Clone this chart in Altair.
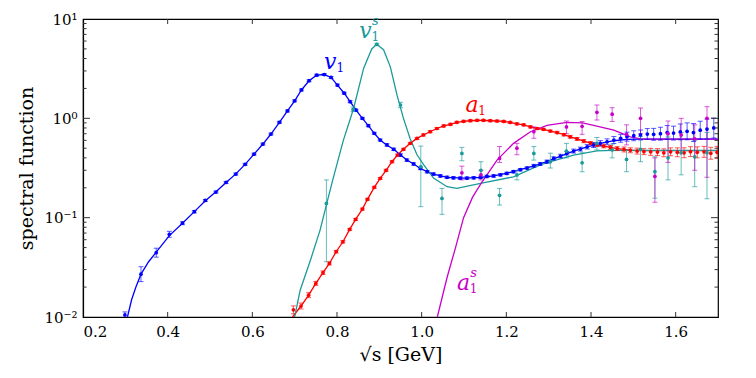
import altair as alt
import pandas as pd

series_names = ["v1", "v1s", "a1", "a1s"]
series_colors = ["#0000ff", "#1a9a9a", "#ff0000", "#c800c8"]

# ---------------- v1 (blue) data points ----------------
v1_x = [0.299, 0.337, 0.373, 0.404, 0.435, 0.463, 0.489, 0.514, 0.538, 0.561,
        0.583, 0.604, 0.625, 0.644, 0.664, 0.683, 0.700, 0.716, 0.734, 0.752,
        0.770, 0.786, 0.801, 0.817, 0.831, 0.845, 0.860, 0.874, 0.888, 0.902,
        0.918, 0.934, 0.950, 0.965, 0.981, 0.997, 1.013, 1.028, 1.044, 1.060,
        1.075, 1.091, 1.107, 1.123, 1.139, 1.154, 1.170, 1.186, 1.201, 1.217,
        1.233, 1.249, 1.265, 1.280, 1.296, 1.312, 1.328, 1.343, 1.359, 1.375,
        1.391, 1.406, 1.422, 1.438, 1.454, 1.470, 1.485, 1.501, 1.517, 1.533,
        1.548, 1.564, 1.580, 1.595, 1.611, 1.627, 1.642, 1.658, 1.674, 1.690]
v1_y = [0.0105, 0.027, 0.0444, 0.068, 0.088, 0.115, 0.149, 0.181, 0.226, 0.275,
        0.344, 0.436, 0.551, 0.695, 0.912, 1.186, 1.50, 1.93, 2.39, 2.72,
        2.76, 2.58, 2.16, 1.79, 1.47, 1.21, 1.00, 0.843, 0.706, 0.605,
        0.54, 0.488, 0.427, 0.38, 0.347, 0.313, 0.29, 0.275, 0.263, 0.255,
        0.252, 0.25, 0.25, 0.252, 0.255, 0.26, 0.263, 0.27, 0.279, 0.29,
        0.304, 0.316, 0.333, 0.347, 0.366, 0.395, 0.417, 0.445, 0.468, 0.49,
        0.517, 0.538, 0.56, 0.58, 0.605, 0.63, 0.654, 0.668, 0.68, 0.695,
        0.69, 0.70, 0.72, 0.71, 0.73, 0.74, 0.72, 0.76, 0.78, 0.80]
# half-width of the error bars in decades
v1_err = [0.03, 0.075, 0.045, 0.03, 0.015, 0.012, 0.01, 0.01, 0.01, 0.01,
          0.01, 0.01, 0.01, 0.01, 0.01, 0.01, 0.01, 0.01, 0.01, 0.01,
          0.01, 0.01, 0.01, 0.01, 0.01, 0.01, 0.01, 0.01, 0.01, 0.01,
          0.012, 0.012, 0.012, 0.012, 0.012, 0.012, 0.012, 0.012, 0.012, 0.012,
          0.012, 0.012, 0.012, 0.012, 0.012, 0.012, 0.012, 0.012, 0.012, 0.012,
          0.012, 0.012, 0.014, 0.014, 0.016, 0.016, 0.018, 0.018, 0.02, 0.02,
          0.022, 0.025, 0.028, 0.03, 0.035, 0.04, 0.045, 0.05, 0.05, 0.055,
          0.06, 0.065, 0.07, 0.07, 0.08, 0.085, 0.09, 0.09, 0.1, 0.1]

# ---------------- a1 (red) data points ----------------
a1_x = [0.697, 0.715, 0.733, 0.750, 0.767, 0.782, 0.798, 0.814, 0.830, 0.844,
        0.860, 0.872, 0.888, 0.902, 0.916, 0.930, 0.943, 0.957, 0.973, 0.989,
        1.004, 1.020, 1.036, 1.052, 1.068, 1.083, 1.099, 1.115, 1.131, 1.146,
        1.162, 1.178, 1.194, 1.209, 1.225, 1.241, 1.257, 1.273, 1.288, 1.304,
        1.320, 1.336, 1.351, 1.367, 1.383, 1.399, 1.414, 1.430, 1.446, 1.462,
        1.478, 1.493, 1.509, 1.525, 1.541, 1.557, 1.572, 1.588, 1.604, 1.620,
        1.635, 1.651, 1.667, 1.683, 1.698]
a1_y = [0.0118, 0.0129, 0.0166, 0.0218, 0.0279, 0.0346, 0.0454, 0.0572, 0.0762, 0.096,
        0.122, 0.153, 0.202, 0.248, 0.30, 0.366, 0.427, 0.488, 0.56, 0.628,
        0.68, 0.733, 0.79, 0.838, 0.871, 0.912, 0.933, 0.946, 0.955, 0.955,
        0.946, 0.94, 0.93, 0.91, 0.88, 0.86, 0.82, 0.79, 0.775, 0.745,
        0.72, 0.685, 0.652, 0.62, 0.59, 0.563, 0.543, 0.526, 0.51, 0.496,
        0.486, 0.477, 0.468, 0.462, 0.46, 0.457, 0.45, 0.46, 0.455, 0.45,
        0.462, 0.455, 0.46, 0.445, 0.455]
a1_err = [0.04, 0.03, 0.025, 0.02, 0.018, 0.015, 0.012, 0.012, 0.01, 0.01,
          0.01, 0.01, 0.01, 0.01, 0.01, 0.01, 0.01, 0.01, 0.01, 0.01,
          0.01, 0.01, 0.01, 0.01, 0.01, 0.01, 0.01, 0.01, 0.01, 0.01,
          0.01, 0.01, 0.01, 0.01, 0.01, 0.01, 0.01, 0.01, 0.01, 0.01,
          0.012, 0.012, 0.014, 0.014, 0.016, 0.016, 0.018, 0.018, 0.02, 0.02,
          0.025, 0.025, 0.03, 0.03, 0.035, 0.035, 0.04, 0.04, 0.045, 0.05,
          0.05, 0.055, 0.055, 0.06, 0.06]

# ---------------- v1^s (teal) data points ----------------
v1s_x = [0.775, 0.838, 0.894, 0.950, 0.998, 1.048, 1.095, 1.140, 1.184, 1.225,
         1.265, 1.304, 1.342, 1.379, 1.414, 1.450, 1.484, 1.517, 1.551, 1.582,
         1.613, 1.645, 1.674]
v1s_y = [0.139, 1.23, 5.56, 1.36, 0.326, 0.156, 0.443, 0.30, 0.168, 0.269,
         0.443, 0.366, 0.468, 0.357, 0.56, 0.48, 0.386, 0.488, 0.29, 0.40,
         0.45, 0.41, 0.45]
v1s_lo = [0.036, 1.17, 5.4, 1.28, 0.129, 0.108, 0.374, 0.249, 0.134, 0.24,
          0.38, 0.316, 0.40, 0.29, 0.48, 0.40, 0.29, 0.366, 0.157, 0.24,
          0.27, 0.205, 0.155]
v1s_hi = [0.24, 1.30, 5.7, 1.45, 0.526, 0.197, 0.51, 0.366, 0.197, 0.30,
          0.52, 0.446, 0.56, 0.45, 0.64, 0.55, 0.48, 0.655, 0.41, 0.65,
          0.72, 0.60, 0.72]

# ---------------- a1^s (magenta) data points ----------------
a1s_x = [1.095, 1.140, 1.184, 1.225, 1.265, 1.342, 1.379, 1.414, 1.450, 1.484,
         1.517, 1.551, 1.582, 1.613, 1.645, 1.674]
a1s_y = [0.283, 0.27, 0.395, 0.50, 0.733, 0.82, 0.83, 1.15, 1.10, 0.69,
         1.0, 0.26, 0.70, 0.68, 0.62, 1.0]
a1s_lo = [0.24, 0.24, 0.36, 0.43, 0.63, 0.70, 0.69, 0.96, 0.93, 0.54,
          0.70, 0.143, 0.36, 0.45, 0.30, 0.255]
a1s_hi = [0.33, 0.30, 0.52, 0.56, 0.82, 0.94, 0.93, 1.36, 1.28, 0.86,
          1.27, 0.40, 0.94, 1.0, 0.86, 1.31]

# ---------------- fitted curves ----------------
v1_cx = [0.305, 0.315, 0.325, 0.337, 0.355, 0.373, 0.404, 0.435, 0.463, 0.489,
         0.514, 0.538, 0.561, 0.583, 0.604, 0.625, 0.644, 0.664, 0.683, 0.700,
         0.716, 0.734, 0.752, 0.770, 0.786, 0.801, 0.817, 0.831, 0.845, 0.860,
         0.874, 0.888, 0.902, 0.918, 0.934, 0.950, 0.965, 0.981, 0.997, 1.013,
         1.028, 1.060, 1.100, 1.140, 1.170, 1.200, 1.233, 1.265, 1.296, 1.328,
         1.359, 1.391, 1.422, 1.454, 1.485, 1.510, 1.700]
v1_cy = [0.01, 0.015, 0.02, 0.027, 0.036, 0.045, 0.066, 0.088, 0.115, 0.148,
         0.182, 0.226, 0.276, 0.344, 0.436, 0.551, 0.695, 0.912, 1.186, 1.50,
         1.93, 2.39, 2.72, 2.76, 2.58, 2.16, 1.79, 1.47, 1.21, 1.0,
         0.843, 0.706, 0.605, 0.535, 0.488, 0.427, 0.38, 0.347, 0.313, 0.29,
         0.275, 0.255, 0.25, 0.255, 0.263, 0.279, 0.304, 0.333, 0.366, 0.417,
         0.468, 0.517, 0.56, 0.595, 0.615, 0.618, 0.618]

a1_cx = [0.695, 0.715, 0.733, 0.750, 0.767, 0.782, 0.798, 0.814, 0.830, 0.844,
         0.860, 0.872, 0.888, 0.902, 0.916, 0.930, 0.943, 0.957, 0.973, 0.989,
         1.004, 1.020, 1.036, 1.052, 1.068, 1.083, 1.099, 1.115, 1.131, 1.146,
         1.162, 1.178, 1.194, 1.209, 1.225, 1.241, 1.257, 1.273, 1.288, 1.304,
         1.320, 1.336, 1.351, 1.367, 1.383, 1.399, 1.414, 1.430, 1.446, 1.462,
         1.478, 1.493, 1.510, 1.700]
a1_cy = [0.01, 0.0129, 0.0166, 0.0218, 0.0279, 0.0346, 0.0454, 0.0572, 0.0762, 0.096,
         0.122, 0.153, 0.202, 0.248, 0.30, 0.366, 0.427, 0.488, 0.56, 0.628,
         0.68, 0.733, 0.79, 0.838, 0.871, 0.912, 0.933, 0.946, 0.955, 0.955,
         0.946, 0.94, 0.93, 0.91, 0.88, 0.86, 0.82, 0.79, 0.775, 0.745,
         0.72, 0.685, 0.652, 0.62, 0.59, 0.563, 0.543, 0.526, 0.51, 0.496,
         0.486, 0.477, 0.472, 0.472]

v1s_cx = [0.700, 0.713, 0.737, 0.760, 0.776, 0.790, 0.815, 0.839, 0.863, 0.882,
          0.894, 0.910, 0.926, 0.942, 0.957, 0.973, 0.989, 1.005, 1.028, 1.060,
          1.083, 1.139, 1.217, 1.280, 1.304, 1.359, 1.414, 1.450, 1.700]
v1s_cy = [0.01, 0.0186, 0.037, 0.075, 0.14, 0.24, 0.6, 1.25, 3.2, 5.0,
          5.56, 4.9, 3.3, 1.7, 1.0, 0.62, 0.43, 0.34, 0.25, 0.205,
          0.197, 0.221, 0.258, 0.34, 0.366, 0.427, 0.47, 0.475, 0.475]

a1s_cx = [1.037, 1.060, 1.080, 1.099, 1.120, 1.140, 1.178, 1.217, 1.257, 1.296,
          1.343, 1.380, 1.406, 1.454, 1.493, 1.520, 1.700]
a1s_cy = [0.01, 0.025, 0.05, 0.1, 0.16, 0.22, 0.38, 0.56, 0.733, 0.85,
          0.91, 0.9, 0.85, 0.76, 0.65, 0.618, 0.618]

# ---------------- curve labels ----------------
lab_series = ["v1", "v1s", "a1", "a1s"]
lab_letter = ["v", "v", "a", "a"]
lab_sup = ["", "s", "", "s"]
lab_x = [0.784, 0.867, 1.119, 1.099]
lab_y = [3.7, 7.6, 1.36, 0.0218]

x_ticks = [0.2, 0.4, 0.6, 0.8, 1.0, 1.2, 1.4, 1.6]
y_major = [0.1, 1]
y_minor = [m * d for d in [0.01, 0.1, 1] for m in range(2, 10)]
y_labels = [0.01, 0.1, 1, 10]

# ---------------- build tables ----------------
def pts_table(name, xs, ys, los, his):
    return pd.DataFrame({"x": xs, "y": ys, "lo": los, "hi": his, "series": name})

v1_lo = [y / 10 ** e for y, e in zip(v1_y, v1_err)]
v1_hi = [y * 10 ** e for y, e in zip(v1_y, v1_err)]
a1_lo = [y / 10 ** e for y, e in zip(a1_y, a1_err)]
a1_hi = [y * 10 ** e for y, e in zip(a1_y, a1_err)]

points = pd.concat([
    pts_table("v1", v1_x, v1_y, v1_lo, v1_hi),
    pts_table("a1", a1_x, a1_y, a1_lo, a1_hi),
    pts_table("v1s", v1s_x, v1s_y, v1s_lo, v1s_hi),
    pts_table("a1s", a1s_x, a1s_y, a1s_lo, a1s_hi),
], ignore_index=True)

curves = pd.concat([
    pd.DataFrame({"x": v1_cx, "y": v1_cy, "series": "v1"}),
    pd.DataFrame({"x": a1_cx, "y": a1_cy, "series": "a1"}),
    pd.DataFrame({"x": v1s_cx, "y": v1s_cy, "series": "v1s"}),
    pd.DataFrame({"x": a1s_cx, "y": a1s_cy, "series": "a1s"}),
], ignore_index=True)

labels = pd.DataFrame({"x": lab_x, "y": lab_y, "letter": lab_letter,
                       "sup": lab_sup, "series": lab_series})

xt_df = pd.DataFrame({"x": x_ticks[1:]})
ymaj_df = pd.DataFrame({"y": y_major})
ymin_df = pd.DataFrame({"y": y_minor})

FONT = "'DejaVu Serif', serif"
W, H = 635, 298

label_expr = ("abs(datum.value-10)<1e-6 ? '10¹' : abs(datum.value-1)<1e-6 ? '10⁰' : "
              "abs(datum.value-0.1)<1e-9 ? '10⁻¹' : abs(datum.value-0.01)<1e-9 ? '10⁻²' : ''")

x_enc = alt.X("x:Q", scale=alt.Scale(domain=[0.2, 1.7], nice=False, zero=False),
              axis=alt.Axis(values=x_ticks, format=".1f", title="√s [GeV]", grid=False,
                            ticks=False, labelPadding=7, titlePadding=6,
                            labelFont=FONT, titleFont=FONT, labelFontSize=15,
                            titleFontSize=19, titleFontWeight="normal"))


def y_enc(field):
    return alt.Y(f"{field}:Q",
                 scale=alt.Scale(type="log", domain=[0.01, 10], nice=False),
                 axis=alt.Axis(values=y_labels, labelExpr=label_expr,
                               title="spectral function", grid=False,
                               ticks=False, labelPadding=6, titlePadding=7,
                               labelFont=FONT, titleFont=FONT, labelFontSize=15,
                               titleFontSize=19, titleFontWeight="normal"))


color = alt.Color("series:N", scale=alt.Scale(domain=series_names, range=series_colors),
                  legend=None)

lines = alt.Chart(curves).mark_line(strokeWidth=1.3, clip=True).encode(
    x=x_enc, y=y_enc("y"), color=color, detail="series:N")

bars = alt.Chart(points).mark_rule(strokeWidth=1, opacity=0.65, clip=True).encode(
    x=x_enc, y=y_enc("lo"), y2="hi:Q", color=color)

cap_lo = alt.Chart(points).mark_tick(orient="horizontal", size=5, thickness=1,
                                     opacity=0.65, clip=True).encode(
    x=x_enc, y=y_enc("lo"), color=color)
cap_hi = alt.Chart(points).mark_tick(orient="horizontal", size=5, thickness=1,
                                     opacity=0.65, clip=True).encode(
    x=x_enc, y=y_enc("hi"), color=color)

dots = alt.Chart(points).mark_circle(size=14, opacity=1, clip=True).encode(
    x=x_enc, y=y_enc("y"), color=color)

lab_main = alt.Chart(labels).mark_text(font=FONT, fontStyle="italic", fontSize=22,
                                       align="center", baseline="middle").encode(
    x=x_enc, y=y_enc("y"), text="letter:N", color=color)
lab_sub = alt.Chart(labels).mark_text(font=FONT, fontSize=12, align="center",
                                      baseline="middle", dx=10, dy=6).encode(
    x=x_enc, y=y_enc("y"), text=alt.value("1"), color=color)
lab_sup = alt.Chart(labels).mark_text(font=FONT, fontStyle="italic", fontSize=13,
                                      align="center", baseline="middle", dx=10, dy=-10).encode(
    x=x_enc, y=y_enc("y"), text="sup:N", color=color)

# inward tick marks on all four sides of the frame
tick_style = dict(color="#333333", strokeWidth=1)
xt_bottom = alt.Chart(xt_df).mark_rule(**tick_style).encode(
    x=x_enc, y=alt.value(H), y2=alt.value(H - 5))
xt_top = alt.Chart(xt_df).mark_rule(**tick_style).encode(
    x=x_enc, y=alt.value(0), y2=alt.value(5))
ymaj_left = alt.Chart(ymaj_df).mark_rule(**tick_style).encode(
    y=y_enc("y"), x=alt.value(0), x2=alt.value(7))
ymaj_right = alt.Chart(ymaj_df).mark_rule(**tick_style).encode(
    y=y_enc("y"), x=alt.value(W), x2=alt.value(W - 7))
ymin_left = alt.Chart(ymin_df).mark_rule(**tick_style).encode(
    y=y_enc("y"), x=alt.value(0), x2=alt.value(3.5))
ymin_right = alt.Chart(ymin_df).mark_rule(**tick_style).encode(
    y=y_enc("y"), x=alt.value(W), x2=alt.value(W - 3.5))

chart = alt.layer(lines, bars, cap_lo, cap_hi, dots, lab_main, lab_sub, lab_sup,
                  xt_bottom, xt_top, ymaj_left, ymaj_right, ymin_left, ymin_right).properties(
    width=W, height=H,
    padding={"left": 75, "top": 11, "right": 30, "bottom": 55},
    autosize=alt.AutoSizeParams(type="none"),
).configure_view(stroke="black", strokeWidth=1.2).configure_axis(
    labelFont=FONT, titleFont=FONT, labelFontSize=15, titleFontSize=19,
    titleFontWeight="normal", labelColor="black", titleColor="black",
    domainColor="black", domainWidth=1.2,
).configure_text(font=FONT)

chart.save("out.html", embed_options={"renderer": "svg", "actions": False})
